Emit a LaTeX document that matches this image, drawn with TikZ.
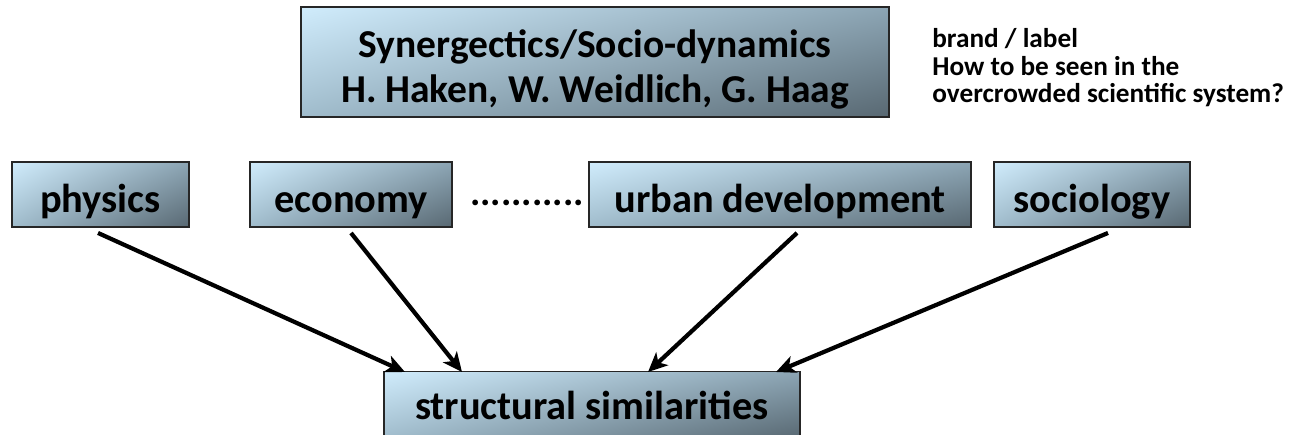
\documentclass[tikz,border=0pt]{standalone}
\usepackage{fontspec}
\setmainfont{Carlito}
\usetikzlibrary{arrows.meta,shadings}
\definecolor{boxlight}{RGB}{208,236,252}
\definecolor{boxmidA}{RGB}{140,165,180}
\definecolor{boxmidB}{RGB}{160,188,204}
\definecolor{boxdark}{RGB}{88,104,114}
\tikzset{
  fieldbox/.style={draw=black!85, line width=1.1pt, upper left=boxlight, upper right=boxmidA,
    lower left=boxmidB, lower right=boxdark, inner sep=0pt, minimum height=1.3cm,
    text height=21pt, text depth=0pt, font=\fontsize{23}{27}\selectfont\bfseries},
  link/.style={line width=2.4pt, -{Stealth[length=11pt,width=10pt,inset=3pt]}}
}
\begin{document}
\begin{tikzpicture}[x=0.02cm,y=-0.02cm]
  \useasboundingbox (0,0) rectangle (1294,435);
  % Header box and note
  \node[fieldbox, minimum width=11.76cm, minimum height=2.2cm, align=center,
    text height=, text depth=, font=\fontsize{22.5}{25.5}\selectfont\bfseries] (brand) at (595,62)
    {\rule{0pt}{24pt}Synergectics/Socio-dynamics\\H. Haken, W. Weidlich, G. Haag};
  \node[anchor=base west, align=left, inner sep=0pt,
    font=\fontsize{15.5}{15.8}\selectfont\bfseries] (note) at (932,103)
    {brand / label\\How to be seen in the\\overcrowded scientific system?};
  % Disciplines
  \node[fieldbox, minimum width=3.54cm] (physics) at (100.5,194.5) {physics};
  \node[fieldbox, minimum width=4.04cm] (economy) at (351,194.5) {economy};
  \node[font=\fontsize{22}{24}\selectfont\bfseries, inner sep=0pt] (dots) at (527,203) {...........};
  \node[fieldbox, minimum width=7.64cm] (urban) at (780,194.5) {urban development};
  \node[fieldbox, minimum width=3.92cm] (sociology) at (1092,194.5) {sociology};
  % Common ground
  \node[fieldbox, minimum width=8.32cm, minimum height=1.34cm, text height=16pt] (similar) at (592,405)
    {structural similarities};
  \coordinate (in1) at (405,372);
  \coordinate (in2) at (462,372);
  \coordinate (in3) at (648,372);
  \coordinate (in4) at (776,372);
  % Arrows
  \draw[link] ([xshift=-0.05cm,yshift=-0.1cm]physics.south) -- (in1);
  \draw[link] ([yshift=-0.1cm]economy.south) -- (in2);
  \draw[link] ([xshift=0.34cm,yshift=-0.1cm]urban.south) -- (in3);
  \draw[link] ([xshift=0.32cm,yshift=-0.1cm]sociology.south) -- (in4);
\end{tikzpicture}
\end{document}
